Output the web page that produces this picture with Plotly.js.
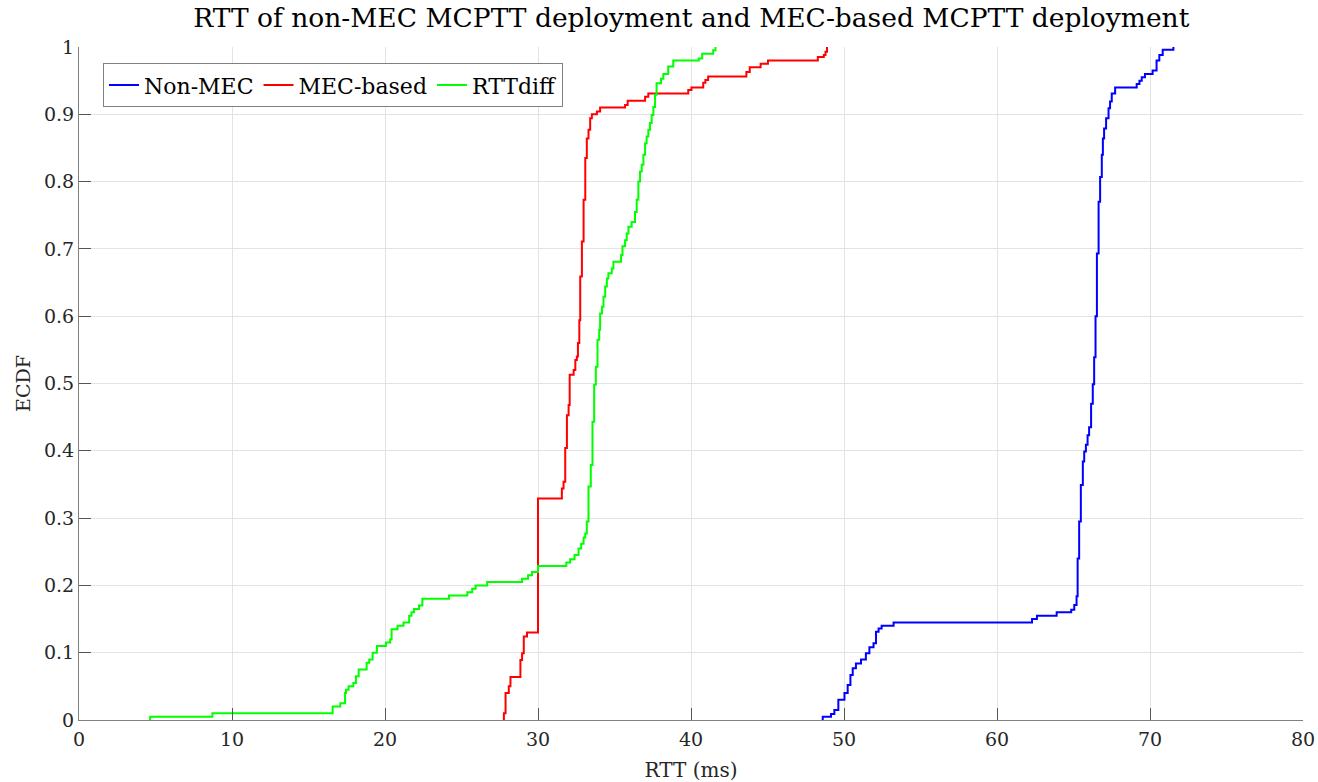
<!DOCTYPE html>
<html>
<head>
<meta charset="utf-8">
<script src="https://cdn.plot.ly/plotly-3.0.1.min.js"></script>
<style>html,body{margin:0;padding:0;background:#fff;}#chart{width:1318px;height:782px;}</style>
</head>
<body>
<div id="chart"></div>
<script>
// Non-MEC ECDF step points
var nonMecX = [48.61,48.61,49.15,49.37,49.63,50.03,50.24,50.42,50.57,50.78,51.11,51.43,51.66,51.93,52.09,52.26,52.46,53.24,62.29,62.61,63.9,64.85,65.05,65.2,65.27,65.37,65.48,65.61,65.7,65.81,65.92,66.02,66.15,66.26,66.35,66.44,66.53,66.64,66.74,66.85,66.92,67.0,67.13,67.29,67.39,67.5,67.72,69.13,69.31,69.46,69.67,70.17,70.43,70.61,70.83,71.53];
var nonMecY = [0,0.005,0.009,0.015,0.03,0.04,0.052,0.067,0.077,0.084,0.09,0.099,0.108,0.114,0.131,0.136,0.14,0.145,0.15,0.155,0.16,0.164,0.171,0.184,0.24,0.295,0.349,0.384,0.399,0.409,0.423,0.435,0.47,0.499,0.539,0.6,0.693,0.77,0.807,0.84,0.864,0.879,0.894,0.909,0.919,0.931,0.94,0.945,0.95,0.955,0.96,0.965,0.98,0.988,0.996,1.0];

// MEC-based ECDF step points
var mecX = [27.77,27.77,27.88,28.09,28.2,28.85,28.96,29.07,29.28,30.0,31.56,31.67,31.78,31.89,32.0,32.07,32.33,32.44,32.54,32.61,32.7,32.76,32.87,32.98,33.09,33.19,33.3,33.41,33.52,33.85,34.06,35.69,35.86,37.0,37.21,39.82,40.03,40.8,40.94,41.12,43.62,43.84,44.55,45.03,48.29,48.68,48.79,48.89];
var mecY = [0,0.01,0.04,0.05,0.064,0.089,0.099,0.124,0.13,0.329,0.344,0.354,0.404,0.453,0.468,0.513,0.52,0.535,0.54,0.56,0.594,0.659,0.711,0.773,0.835,0.864,0.877,0.894,0.9,0.904,0.91,0.914,0.92,0.926,0.931,0.936,0.94,0.947,0.951,0.956,0.963,0.97,0.975,0.98,0.985,0.988,0.993,1.0];

// RTTdiff ECDF step points
var diffX = [4.65,4.65,8.72,16.58,17.08,17.39,17.45,17.62,17.93,18.10,18.28,18.80,18.97,19.19,19.47,20.06,20.34,20.43,20.82,21.21,21.58,21.73,21.90,22.22,22.44,24.18,25.38,25.70,25.92,26.68,28.96,29.35,29.61,30.0,31.85,32.1,32.39,32.65,32.82,32.98,33.09,33.19,33.3,33.45,33.56,33.67,33.78,33.89,34.0,34.06,34.18,34.28,34.39,34.5,34.6,34.82,34.93,35.43,35.52,35.69,35.8,35.91,36.12,36.34,36.45,36.56,36.67,36.78,36.89,37.0,37.1,37.21,37.32,37.43,37.54,37.65,37.75,38.04,38.19,38.51,38.84,40.51,40.73,41.45,41.6];
var diffY = [0,0.005,0.01,0.02,0.025,0.04,0.045,0.05,0.055,0.065,0.075,0.085,0.09,0.10,0.11,0.115,0.12,0.135,0.14,0.145,0.155,0.16,0.165,0.17,0.18,0.185,0.19,0.195,0.20,0.205,0.21,0.215,0.22,0.229,0.234,0.239,0.245,0.255,0.262,0.271,0.277,0.295,0.347,0.379,0.443,0.498,0.525,0.565,0.58,0.604,0.614,0.629,0.644,0.656,0.664,0.671,0.681,0.691,0.704,0.713,0.723,0.733,0.74,0.755,0.773,0.80,0.815,0.825,0.84,0.857,0.867,0.877,0.887,0.899,0.911,0.929,0.946,0.953,0.96,0.971,0.98,0.983,0.99,0.995,1.0];

var seriesNames = ['Non-MEC', 'MEC-based', 'RTTdiff'];
var xTickVals = [0,10,20,30,40,50,60,70,80];
var yTickVals = [0,0.1,0.2,0.3,0.4,0.5,0.6,0.7,0.8,0.9,1];

var FONT = '"DejaVu Serif", "Liberation Serif", serif';

var traces = [
  {x: nonMecX, y: nonMecY, name: seriesNames[0], mode: 'lines', line: {shape: 'hv', color: '#0000ff', width: 2}},
  {x: mecX, y: mecY, name: seriesNames[1], mode: 'lines', line: {shape: 'hv', color: '#ff0000', width: 2}},
  {x: diffX, y: diffY, name: seriesNames[2], mode: 'lines', line: {shape: 'hv', color: '#00ff00', width: 2}}
];

var layout = {
  width: 1318, height: 782,
  paper_bgcolor: '#ffffff', plot_bgcolor: '#ffffff',
  margin: {l: 79, r: 15, t: 47, b: 62},
  font: {family: FONT, color: '#262626', size: 19},
  title: {text: 'RTT of non-MEC MCPTT deployment and MEC-based MCPTT deployment', font: {family: FONT, size: 26.5, color: '#000'}, x: 0.5245, xanchor: 'center', y: 0.977, yanchor: 'middle'},
  xaxis: {
    range: [0, 80], tickvals: xTickVals, ticks: 'inside', ticklen: 12, tickcolor: '#555',
    showline: true, linecolor: '#808080', linewidth: 1, mirror: false,
    showgrid: true, gridcolor: '#e3e3e3', gridwidth: 1, zeroline: false,
    tickfont: {family: FONT, size: 19, color: '#262626'}, ticklabelstandoff: 2,
    title: {text: 'RTT (ms)', font: {family: FONT, size: 20, color: '#262626'}, standoff: 14}
  },
  yaxis: {
    range: [0, 1], tickvals: yTickVals, ticks: 'inside', ticklen: 12, tickcolor: '#555',
    showline: true, linecolor: '#808080', linewidth: 1, mirror: false,
    showgrid: true, gridcolor: '#e3e3e3', gridwidth: 1, zeroline: false,
    tickfont: {family: FONT, size: 19, color: '#262626'},
    title: {text: 'ECDF', font: {family: FONT, size: 19, color: '#262626'}, standoff: 8}
  },
  showlegend: true,
  legend: {
    orientation: 'h', x: 0.0196, xanchor: 'left', y: 0.976, yanchor: 'top',
    bgcolor: '#ffffff', bordercolor: '#808080', borderwidth: 1,
    font: {family: FONT, size: 22, color: '#000'},
    itemwidth: 30, tracegroupgap: 0
  }
};

Plotly.newPlot('chart', traces, layout, {displayModeBar: false, staticPlot: true});
</script>
</body>
</html>
